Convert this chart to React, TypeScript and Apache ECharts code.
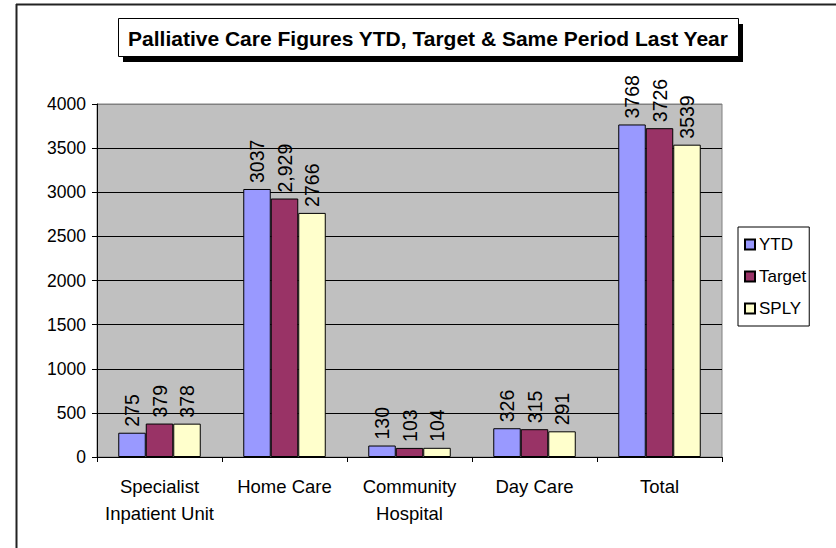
import React, { useEffect, useRef } from "react";
import * as echarts from "echarts";

const categories = ["Specialist\nInpatient Unit", "Home Care", "Community\nHospital", "Day Care", "Total"];
const ytdValues = [275, 3037, 130, 326, 3768];
const targetValues = [379, 2929, 103, 315, 3726];
const targetLabels = ["379", "2,929", "103", "315", "3726"];
const splyValues = [378, 2766, 104, 291, 3539];
const seriesNames = ["YTD", "Target", "SPLY"];
const titleText = "Palliative Care Figures YTD, Target & Same Period Last Year";

const FONT = "'Liberation Sans', Arial, sans-serif";

export default function App() {
  const ref = useRef<HTMLDivElement>(null);
  useEffect(() => {
    if (!ref.current) return;
    const chart = echarts.init(ref.current, null, { renderer: "svg" });
    const labelBase = {
      show: true,
      position: "top",
      rotate: 90,
      align: "left",
      verticalAlign: "middle",
      distance: 6,
      color: "#000",
      fontSize: 19.5,
      fontFamily: FONT,
    };
    const mk = (name: string, data: number[], color: string, fmt?: string[]) => ({
      name,
      type: "bar",
      data,
      barGap: "0%",
      barCategoryGap: "34%",
      itemStyle: { color, borderColor: "#000", borderWidth: 1 },
      label: fmt
        ? { ...labelBase, formatter: (p: any) => fmt[p.dataIndex] }
        : labelBase,
    });
    chart.setOption({
      animation: false,
      backgroundColor: "#fff",
      textStyle: { fontFamily: FONT },
      graphic: [
        { type: "line", shape: { x1: 16, y1: 4.5, x2: 836, y2: 4.5 }, style: { stroke: "#222", lineWidth: 2 } },
        { type: "line", shape: { x1: 16.5, y1: 4, x2: 16.5, y2: 548 }, style: { stroke: "#222", lineWidth: 2 } },
        { type: "rect", shape: { x: 123, y: 24, width: 620, height: 38 }, style: { fill: "#000" } },
        { type: "rect", shape: { x: 118.5, y: 18.5, width: 620, height: 38 }, style: { fill: "#fff", stroke: "#000", lineWidth: 1 } },
        {
          type: "text",
          x: 428,
          y: 38,
          style: {
            text: titleText,
            fontSize: 21,
            fontWeight: "bold",
            fontFamily: FONT,
            fill: "#000",
            align: "center",
            verticalAlign: "middle",
          },
        },
      ],
      legend: {
        data: seriesNames,
        orient: "vertical",
        left: 738,
        top: 227,
        padding: [9, 3, 9, 6],
        itemGap: 15,
        itemWidth: 10,
        itemHeight: 10,
        icon: "rect",
        borderColor: "#000",
        borderWidth: 1,
        backgroundColor: "#fff",
        textStyle: { fontSize: 17, color: "#000", fontFamily: FONT, padding: [0, 0, 0, -1] },
      },
      grid: {
        left: 97,
        top: 104,
        right: 114,
        bottom: 91,
        show: true,
        backgroundColor: "#C0C0C0",
        borderColor: "#808080",
        borderWidth: 1,
      },
      xAxis: {
        type: "category",
        data: categories,
        axisLine: { lineStyle: { color: "#000", width: 1 } },
        axisTick: { show: true, length: 5, lineStyle: { color: "#000" } },
        axisLabel: { color: "#000", fontSize: 18.5, fontFamily: FONT, margin: 16, lineHeight: 27, interval: 0 },
      },
      yAxis: {
        type: "value",
        min: 0,
        max: 4000,
        interval: 500,
        axisLine: { show: true, lineStyle: { color: "#000", width: 1 } },
        axisTick: { show: true, length: 5, lineStyle: { color: "#000" } },
        axisLabel: { color: "#000", fontSize: 17.5, fontFamily: FONT, margin: 11, formatter: (v: number) => String(v) },
        splitLine: {
          show: true,
          lineStyle: {
            color: ["#000", "#000", "#000", "#000", "#000", "#000", "#000", "#000", "#808080"],
            width: 1,
          },
        },
      },
      series: [
        mk(seriesNames[0], ytdValues, "#9999FF"),
        mk(seriesNames[1], targetValues, "#993366", targetLabels),
        mk(seriesNames[2], splyValues, "#FFFFCC"),
      ],
    });
    return () => chart.dispose();
  }, []);
  return <div ref={ref} style={{ position: "fixed", left: 0, top: 0, width: 836, height: 548 }} />;
}
